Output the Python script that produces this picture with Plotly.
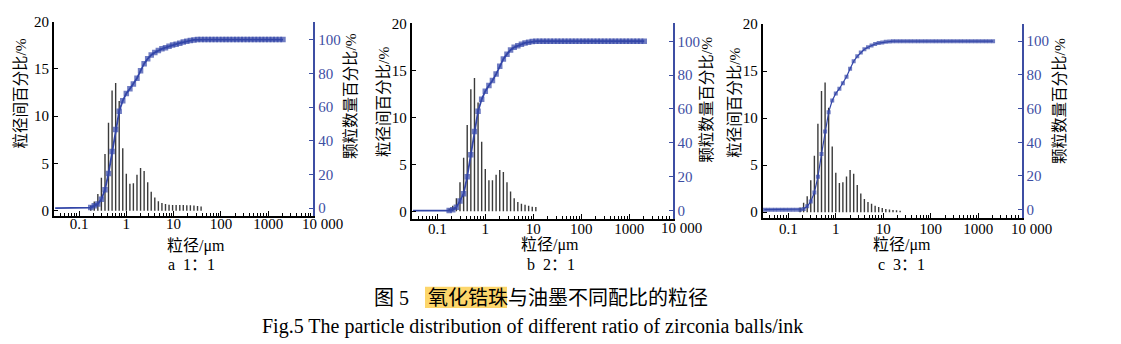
import plotly.graph_objects as go

W, H = 1121, 344

# particle size grid (um), quarter-octave bins
sizes_um = [0.0313, 0.0372, 0.0442, 0.0526, 0.0625, 0.0743, 0.0884, 0.105, 0.125, 0.149,
            0.177, 0.210, 0.250, 0.297, 0.354, 0.420, 0.500, 0.595, 0.707, 0.841,
            1.00, 1.19, 1.41, 1.68, 2.00, 2.38, 2.83, 3.36, 4.00, 4.76,
            5.66, 6.73, 8.00, 9.51, 11.3, 13.5, 16.0, 19.0, 22.6, 26.9,
            32.0, 38.1, 45.3, 53.8, 64.0, 76.1, 90.5, 108, 128, 152,
            181, 215, 256, 304, 362, 431, 512, 609, 724, 861,
            1024, 1218, 1448, 1722, 2048]

# interval percentage (left axis)
bars_a = [0, 0, 0, 0, 0, 0, 0, 0, 0, 0,
          0.55, 0.96, 1.75, 3.47, 6.0, 9.3, 12.7, 13.5, 11.6, 6.6,
          3.9, 2.85, 2.9, 3.8, 4.5, 4.2, 3.0, 2.0, 1.4, 1.0,
          0.8, 0.7, 0.62, 0.6, 0.6, 0.6, 0.6, 0.58, 0.56, 0.54,
          0.5, 0.45, 0, 0, 0, 0, 0, 0, 0, 0,
          0, 0, 0, 0, 0, 0, 0, 0, 0, 0,
          0, 0, 0, 0, 0]
bars_b = [0, 0, 0, 0, 0, 0, 0, 0, 0, 0,
          0.3, 0.6, 1.4, 3.1, 5.7, 9.2, 13.0, 14.2, 11.6, 7.4,
          4.5, 3.3, 3.3, 3.9, 4.4, 4.2, 3.1, 2.1, 1.4, 1.0,
          0.8, 0.7, 0.6, 0.5, 0.45, 0, 0, 0, 0, 0,
          0, 0, 0, 0, 0, 0, 0, 0, 0, 0,
          0, 0, 0, 0, 0, 0, 0, 0, 0, 0,
          0, 0, 0, 0, 0]
bars_c = [0, 0, 0, 0, 0, 0, 0, 0, 0, 0,
          0.5, 1.0, 1.7, 3.4, 6.0, 9.4, 12.9, 13.8, 11.1, 7.0,
          4.2, 3.1, 3.2, 3.8, 4.5, 4.1, 2.9, 2.0, 1.4, 1.1,
          0.9, 0.7, 0.55, 0.45, 0.35, 0.3, 0.25, 0.2, 0.15, 0,
          0, 0, 0, 0, 0, 0, 0, 0, 0, 0,
          0, 0, 0, 0, 0, 0, 0, 0, 0, 0,
          0, 0, 0, 0, 0]

# cumulative number percentage (right axis)
cum_a = [0, 0, 0, 0, 0, 0, 0, 0, 0, 0,
         0.4, 1.5, 2.5, 5.3, 11.0, 20.6, 33.7, 46.7, 57.5, 63.8,
         68.0, 70.9, 73.7, 77.1, 81.5, 85.7, 88.6, 90.9, 92.4, 93.5,
         94.5, 95.2, 96.0, 96.8, 97.3, 97.9, 98.5, 99.0, 99.4, 99.8,
         100, 100, 100, 100, 100, 100, 100, 100, 100, 100,
         100, 100, 100, 100, 100, 100, 100, 100, 100, 100,
         100, 100, 100, 100, 100]
cum_b = [0, 0, 0, 0, 0, 0, 0, 0, 0, 0,
         0, 0.5, 2.0, 5.7, 10.0, 20.0, 33.0, 46.7, 58.7, 65.7,
         70.5, 73.9, 76.8, 80.6, 85.3, 89.5, 92.4, 94.9, 96.4, 97.3,
         98.3, 99.0, 99.4, 99.8, 100, 100, 100, 100, 100, 100,
         100, 100, 100, 100, 100, 100, 100, 100, 100, 100,
         100, 100, 100, 100, 100, 100, 100, 100, 100, 100,
         100, 100, 100, 100, 100]
cum_c = [0, 0, 0, 0, 0, 0, 0, 0, 0, 0,
         0, 0.4, 2.0, 4.8, 10.2, 19.5, 33.0, 46.4, 57.9, 64.8,
         69.0, 71.8, 75.1, 78.9, 83.7, 88.1, 91.0, 93.3, 95.2, 96.4,
         97.5, 98.3, 98.9, 99.2, 99.6, 99.8, 100, 100, 100, 100,
         100, 100, 100, 100, 100, 100, 100, 100, 100, 100,
         100, 100, 100, 100, 100, 100, 100, 100, 100, 100,
         100, 100, 100, 100, 100]

x_tick_vals = [0.1, 1, 10, 100, 1000]
x_tick_text = ["0.1", "1", "10", "100", "1000"]
x_last_label = "10 000"
left_ticks = [0, 5, 10, 15, 20]
right_ticks = [0, 20, 40, 60, 80, 100]
left_title = "粒径间百分比/%"
right_title = "颗粒数量百分比/%"
x_title = "粒径/μm"
subtitles = ["a  1：1", "b  2：1", "c  3：1"]
caption_cn_prefix = "图 5"
caption_cn_highlight = "氧化锆珠"
caption_cn_rest = "与油墨不同配比的粒径"
caption_en = "Fig.5 The particle distribution of different ratio of zirconia balls/ink"

FONT = "Liberation Serif, Noto Sans CJK SC, serif"
BLUE_AX = "#3d4ea3"
BLUE_LN = "#3346a8"
BAR_C = "#3a3a3a"

# panel geometry in pixels
panels = [
    dict(bars=bars_a, cum=cum_a, msize=5.5, mstart=10, lw=1.8, x0=54, x1=313.3, top=14, bottom=215,
         xr=[-1.529, 3.953], yl=[-0.58, 20], yr=[-4.69, 110.7], stand=-7,
         ltitle=(20.3, 88), rtitle=(350, 91), xt=(195.8, 246), sub=(191.7, 265), last=(322, 222.7)),
    dict(bars=bars_b, cum=cum_b, msize=5.5, mstart=10, lw=1.8, x0=411.7, x1=672.7, top=16, bottom=218,
         xr=[-1.533, 3.904], yl=[-0.82, 20], yr=[-5.0, 110.5], stand=-5,
         ltitle=(383.3, 96.7), rtitle=(706.7, 95), xt=(550, 245), sub=(551, 265), last=(681.7, 227.7)),
    dict(bars=bars_c, cum=cum_c, msize=4, mstart=0, lw=1.2, x0=762.7, x1=1021.7, top=16.7, bottom=216.7,
         xr=[-1.539, 3.914], yl=[-0.59, 20], yr=[-4.8, 110.1], stand=-4,
         ltitle=(735, 98), rtitle=(1060, 96), xt=(901.7, 245), sub=(901.7, 265), last=(1031.7, 228.3)),
]

def px(x):
    return x / W

def py(y):
    return 1 - y / H

minor_vals = [d * 10 ** e for e in range(-2, 4) for d in range(2, 10)]

fig = go.Figure()
layout = dict(width=W, height=H, autosize=False, margin=dict(l=0, r=0, t=0, b=0),
              paper_bgcolor="white", plot_bgcolor="white", showlegend=False,
              font=dict(family=FONT, size=15, color="black"))
annotations = []
shapes = []

for i, p in enumerate(panels):
    n = i + 1
    xa = "x" if n == 1 else f"x{n}"
    ya = "y" if n == 1 else f"y{n}"
    yr_name = f"y{n + 3}"
    # bars as thin vertical segments
    bx, by = [], []
    for s, v in zip(sizes_um, p["bars"]):
        if v > 0:
            bx += [s, s, None]
            by += [0, v, None]
    fig.add_trace(go.Scatter(x=bx, y=by, mode="lines", xaxis=xa, yaxis=ya,
                             line=dict(color=BAR_C, width=1.4), hoverinfo="skip"))
    msizes = [p["msize"] if k >= p["mstart"] else 0 for k in range(len(sizes_um))]
    fig.add_trace(go.Scatter(x=sizes_um, y=p["cum"], mode="lines+markers", xaxis=xa, yaxis=yr_name,
                             line=dict(color=BLUE_LN, width=p["lw"]),
                             marker=dict(symbol="square", size=msizes, color=BLUE_LN, line=dict(width=0))))
    dom_x = [px(p["x0"]), px(p["x1"])]
    dom_y = [py(p["bottom"]), py(p["top"])]
    layout["xaxis" if n == 1 else f"xaxis{n}"] = dict(
        domain=dom_x, anchor=ya, type="log", range=p["xr"],
        tickmode="array", tickvals=x_tick_vals, ticktext=x_tick_text,
        ticks="inside", ticklen=5, tickwidth=1.3, tickcolor="black", ticklabelstandoff=p["stand"],
        minor=dict(tickmode="array", tickvals=minor_vals, ticks="inside", ticklen=3,
                   tickwidth=1.1, tickcolor="black", showgrid=False),
        showline=True, linecolor="black", linewidth=1.8, showgrid=False, zeroline=False,
        tickfont=dict(family=FONT, size=15, color="black"))
    layout["yaxis" if n == 1 else f"yaxis{n}"] = dict(
        domain=dom_y, anchor=xa, range=p["yl"], tickmode="array", tickvals=left_ticks,
        ticks="inside", ticklen=4, tickwidth=1.3, tickcolor="black",
        showline=True, linecolor="black", linewidth=1.8, showgrid=False, zeroline=False,
        tickfont=dict(family=FONT, size=15, color="black"))
    layout[f"yaxis{n + 3}"] = dict(
        overlaying=ya, anchor=xa, side="right", range=p["yr"], tickmode="array",
        tickvals=right_ticks, ticks="inside", ticklen=4, tickwidth=1.3, tickcolor=BLUE_AX,
        showline=True, linecolor=BLUE_AX, linewidth=1.8, showgrid=False, zeroline=False,
        tickfont=dict(family=FONT, size=15, color=BLUE_AX))
    common = dict(xref="paper", yref="paper", showarrow=False, xanchor="center", yanchor="middle")
    annotations.append(dict(text=left_title, x=px(p["ltitle"][0]), y=py(p["ltitle"][1]), textangle=-90,
                            font=dict(family=FONT, size=15.5, color="black"), **common))
    annotations.append(dict(text=right_title, x=px(p["rtitle"][0]), y=py(p["rtitle"][1]), textangle=-90,
                            font=dict(family=FONT, size=15.5, color="black"), **common))
    annotations.append(dict(text=x_title, x=px(p["xt"][0]), y=py(p["xt"][1]),
                            font=dict(family=FONT, size=16, color="black"), **common))
    annotations.append(dict(text=subtitles[i], x=px(p["sub"][0]), y=py(p["sub"][1]),
                            font=dict(family=FONT, size=16, color="black"), **common))
    annotations.append(dict(text=x_last_label, x=px(p["last"][0]), y=py(p["last"][1]),
                            font=dict(family=FONT, size=15, color="black"), **common))

# caption
shapes.append(dict(type="rect", xref="paper", yref="paper", x0=px(425), x1=px(507), y0=py(310), y1=py(288),
                   fillcolor="#fdd66b", line=dict(width=0), layer="below"))
annotations.append(dict(text=caption_cn_prefix, x=px(372), y=py(300), xref="paper", yref="paper",
                        showarrow=False, xanchor="left", yanchor="middle",
                        font=dict(family=FONT, size=20, color="black")))
annotations.append(dict(text=caption_cn_highlight + caption_cn_rest, x=px(426), y=py(300), xref="paper",
                        yref="paper", showarrow=False, xanchor="left", yanchor="middle",
                        font=dict(family=FONT, size=20, color="black")))
annotations.append(dict(text=caption_en, x=px(532), y=py(329), xref="paper", yref="paper",
                        showarrow=False, xanchor="center", yanchor="middle",
                        font=dict(family=FONT, size=20, color="black")))

layout["annotations"] = annotations
layout["shapes"] = shapes
fig.update_layout(**layout)
fig.write_html("out.html")
